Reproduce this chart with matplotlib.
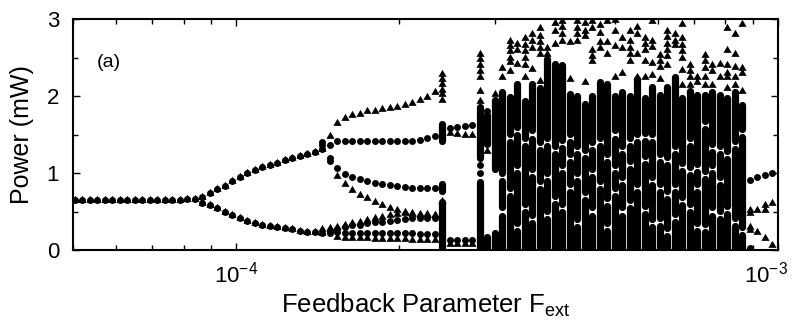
import numpy as np
import matplotlib
matplotlib.use('Agg')
import matplotlib.pyplot as plt
import matplotlib.transforms
from matplotlib.collections import LineCollection
from matplotlib.path import Path
from matplotlib.ticker import FixedLocator, LogLocator, MultipleLocator, NullFormatter

plt.rcParams['font.family'] = ['Liberation Sans', 'DejaVu Sans']
plt.rcParams['mathtext.fontset'] = 'custom'
plt.rcParams['mathtext.rm'] = 'Liberation Sans'
plt.rcParams['axes.unicode_minus'] = False

# feedback parameter sweep (units of 1e-5), one entry per step k
F_grid = np.array([
    5.035, 5.198, 5.367, 5.540, 5.720, 5.905, 6.096, 6.293, 6.497, 6.707,
    6.925, 7.149, 7.380, 7.619, 7.866, 8.121, 8.384, 8.655, 8.936, 9.225,
    9.524, 9.832, 10.150, 10.478, 10.818, 11.168, 11.529, 11.903, 12.288, 12.686,
    13.097, 13.521, 13.959, 14.411, 14.877, 15.359, 15.856, 16.370, 16.900, 17.447,
    18.012, 18.595, 19.197, 19.818, 20.460, 21.123, 21.807, 22.513, 23.242, 23.994,
    24.771, 25.573, 26.401, 27.256, 28.138, 29.049, 29.990, 30.961, 31.963, 32.998,
    34.067, 35.170, 36.308, 37.484, 38.698, 39.951, 41.244, 42.580, 43.958, 45.381,
    46.851, 48.368, 49.934, 51.550, 53.219, 54.942, 56.721, 58.558, 60.454, 62.411,
    64.432, 66.518, 68.672, 70.895, 73.191, 75.560, 78.007, 80.533, 83.140, 85.832,
    88.611, 91.480, 94.442, 97.500]) * 1e-5

# steady state (k = 0..16)
p_fixed = [0.65, 0.65, 0.65, 0.65, 0.65, 0.65, 0.65, 0.65, 0.65, 0.65,
           0.65, 0.65, 0.65, 0.65, 0.65, 0.66, 0.66]

# period two (k = 17..33)
p2_up = [0.69, 0.74, 0.79, 0.83, 0.90, 0.95, 1.00, 1.04, 1.08, 1.10,
         1.13, 1.17, 1.19, 1.22, 1.25, 1.27, 1.31]
p2_low = [0.61, 0.58, 0.55, 0.49, 0.45, 0.41, 0.38, 0.35, 0.33, 0.31,
          0.30, 0.28, 0.27, 0.25, 0.24, 0.23, 0.22]

# higher period branches (k = 35..48)
tri_a = [1.65, 1.71, 1.75, 1.77, 1.80, 1.81, 1.83, 1.84, 1.86, 1.88, 1.91, 1.95, 1.99, 2.05]
circ_a = [1.41, 1.41, 1.41, 1.41, 1.41, 1.41, 1.41, 1.41, 1.41, 1.42, 1.42, 1.43, 1.45, 1.48]
circ_b = [1.07, 0.99, 0.95, 0.92, 0.90, 0.87, 0.86, 0.84, 0.83, 0.82, 0.81, 0.80, 0.80, 0.80]
tri_b = [0.96, 0.86, 0.78, 0.72, 0.67, 0.62, 0.58, 0.55, 0.52, 0.50, 0.48, 0.47, 0.47, 0.46]
tri_c = [0.30, 0.33, 0.35, 0.37, 0.39, 0.41, 0.43, 0.45, 0.47, 0.48, 0.47, 0.46, 0.46, 0.46]
circ_c = [0.27, 0.30, 0.32, 0.33, 0.35, 0.36, 0.37, 0.38, 0.39, 0.40, 0.41, 0.41, 0.42, 0.42]
circ_d = [0.23, 0.22, 0.22, 0.22, 0.22, 0.22, 0.22, 0.22, 0.22, 0.22, 0.22, 0.21, 0.21, 0.21]
tri_d = [0.17, 0.16, 0.15, 0.15, 0.15, 0.14, 0.14, 0.14, 0.14, 0.14, 0.13, 0.13, 0.13, 0.13]

# short window (k = 50..53)
circ_e = [1.58, 1.60, 1.61, 1.62]
tri_e = [1.52, 1.51, 1.50, 1.49]
circ_f = [0.13, 0.13, 0.13, 0.13]
tri_f = [0.08, 0.08, 0.08, 0.08]

# back to periodic at the right end (k = 90..93)
circ_r = [0.91, 0.95, 0.97, 1.00]
tri_r1 = [0.52, 0.52, 0.58, 0.61]
tri_r2 = [0.30, 0.24, 0.15, 0.06]

# loose points (k, P)
circ_extra = [(33, 1.36), (33, 1.40), (34, 1.36), (34, 1.20), (34, 1.15), (34, 0.22),
              (34, 0.25), (54, 1.00), (54, 1.10), (55, 1.80), (90, 0.02)]
tri_extra = [(33, 0.27), (34, 1.48), (34, 0.28), (49, 2.28), (49, 2.22), (49, 2.15),
             (49, 2.08), (49, 2.02), (49, 1.95), (49, 0.64), (54, 2.55), (54, 2.48),
             (54, 2.40), (54, 2.32), (54, 2.25), (54, 2.07), (54, 1.94), (55, 1.28),
             (56, 2.02), (90, 0.48), (90, 0.26), (92, 0.52)]

# solid runs in the short chaotic bursts (k, low, high)
runs = [(49, 1.42, 1.64), (49, 0.76, 0.86), (49, 0.0, 0.62),
        (54, 1.20, 1.86), (54, 0.0, 0.88),
        (55, 1.38, 1.75), (55, 0.0, 0.17),
        (56, 1.05, 1.95), (56, 0.0, 0.22)]

# chaotic region k = 57..89: top of the dense part, white gaps, triangles above
chaos_top = [2.05, 1.99, 2.15, 1.93, 2.15, 2.10, 2.48, 2.42, 2.40, 2.03, 2.00,
             1.90, 2.00, 2.18, 2.15, 2.00, 2.05, 2.00, 2.22, 1.97, 2.12, 2.01,
             2.12, 2.25, 1.97, 2.07, 2.01, 2.01, 2.05, 2.01, 1.97, 2.05, 1.88]
chaos_gaps = [[0.50, 0.95], [0.75, 1.45], [0.30, 1.05, 1.55], [0.55, 1.40],
              [0.40, 1.00, 1.50], [0.85, 1.35], [0.45, 0.95, 1.40], [0.65, 1.30],
              [0.55, 1.05, 1.38], [0.80, 1.20, 1.45], [0.35, 0.95, 1.30], [0.70, 1.25],
              [0.50, 1.00, 1.35], [0.85, 1.40], [0.30, 0.62, 1.20], [0.75, 1.05, 1.50],
              [0.50, 0.90, 1.30], [0.60, 1.10, 1.40], [0.80, 1.45], [0.52, 1.17, 1.47],
              [0.35, 0.89, 1.45], [0.37, 0.80, 1.19], [0.24, 0.71, 1.15], [0.42, 0.80, 1.30],
              [0.63, 1.08], [0.55, 1.02, 1.40], [0.30, 0.80, 1.06], [0.28, 0.97, 1.62],
              [0.50, 1.05, 1.32], [0.45, 0.89, 1.30], [0.52, 1.23], [0.37, 1.36],
              [0.25, 1.52]]
chaos_tri = [[2.25, 2.36], [2.32, 2.44, 2.50, 2.58, 2.65, 2.72], [2.42, 2.60, 2.68],
             [2.25, 2.40, 2.50, 2.58, 2.66, 2.75], [2.35, 2.62, 2.72, 2.80],
             [2.20, 2.55, 2.62, 2.70, 2.78, 2.88], [2.55, 2.62], [2.68, 2.85, 2.95],
             [2.72, 2.80, 2.90, 2.98], [2.22, 2.70], [2.72, 2.80, 2.88, 2.98],
             [2.18, 2.78, 2.85, 2.95], [2.45, 2.52, 2.60, 2.88, 2.98], [2.62, 2.70, 2.82, 2.92],
             [2.05, 2.55, 2.70, 2.97], [2.25, 2.65, 2.85, 2.99], [2.30, 2.62, 2.75],
             [2.45, 2.55, 2.62, 2.72, 2.85], [2.25, 2.55, 2.80, 2.90],
             [2.25, 2.45, 2.60, 2.68, 2.75], [2.27, 2.43, 2.64, 2.72, 2.97],
             [2.22, 2.38, 2.45, 2.53], [2.40, 2.52, 2.60, 2.68, 2.76, 2.84], [2.66, 2.72, 2.80],
             [2.14, 2.34, 2.49, 2.58, 2.66, 2.75, 2.94], [2.14, 2.25, 2.32, 2.40], [2.18, 2.25],
             [2.14, 2.25, 2.36, 2.45, 2.53], [2.14, 2.32, 2.40], [2.25, 2.42],
             [2.10, 2.25, 2.30, 2.40, 2.60, 2.88], [2.14, 2.25, 2.38, 2.55, 2.80],
             [2.06, 2.30, 2.36, 2.94]]

tri_path = Path([(0, 1), (-0.866, -0.5), (0.866, -0.5), (0, 1)],
                [Path.MOVETO, Path.LINETO, Path.LINETO, Path.CLOSEPOLY])
ms_c = 5.0
ms_t = 6.8

fig = plt.figure(figsize=(7.93, 3.24), dpi=100)
ax = fig.add_axes([73 / 793, 1 - 250 / 324, 705 / 793, 231 / 324])
ax.set_xscale('log')


def branch(k0, vals, marker, ms):
    ax.plot(F_grid[k0:k0 + len(vals)], vals, ls='none', marker=marker, ms=ms,
            color='k', mew=0)


for vals, k0 in [(p_fixed, 0), (p2_up, 17), (p2_low, 17)]:
    branch(k0, vals, 'o', ms_c)
    branch(k0, vals, tri_path, ms_t)
for vals in [circ_a, circ_b, circ_c, circ_d]:
    branch(35, vals, 'o', ms_c)
for vals in [tri_a, tri_b, tri_c, tri_d]:
    branch(35, vals, tri_path, ms_t)
branch(50, circ_e, 'o', ms_c)
branch(50, circ_f, 'o', ms_c)
branch(50, tri_e, tri_path, ms_t)
branch(50, tri_f, tri_path, ms_t)
branch(90, circ_r, 'o', ms_c)
branch(90, tri_r1, tri_path, ms_t)
branch(90, tri_r2, tri_path, ms_t)

ax.plot([F_grid[k] for k, p in circ_extra], [p for k, p in circ_extra], ls='none',
        marker='o', ms=ms_c, color='k', mew=0)
ax.plot([F_grid[k] for k, p in tri_extra], [p for k, p in tri_extra], ls='none',
        marker=tri_path, ms=ms_t, color='k', mew=0)

# dense columns
segs = [[(F_grid[k], lo), (F_grid[k], hi)] for k, lo, hi in runs]
gap = 0.052
for i, (top, gaps) in enumerate(zip(chaos_top, chaos_gaps)):
    f = F_grid[57 + i]
    lo = 0.0
    for g in sorted(gaps):
        segs.append([(f, lo), (f, g - gap)])
        lo = g + gap
    segs.append([(f, lo), (f, top)])
    ax.plot([f] * len(chaos_tri[i]), chaos_tri[i], ls='none', marker=tri_path,
            ms=ms_t, color='k', mew=0)
ax.add_collection(LineCollection(segs, colors='k', linewidths=5.2, capstyle='round'))

ax.set_xlim(5e-5, 1e-3)
ax.set_ylim(0, 3)

ax.xaxis.set_major_locator(FixedLocator([1e-4, 1e-3]))
ax.xaxis.set_minor_locator(LogLocator(base=10, subs=np.arange(2, 10)))
ax.xaxis.set_minor_formatter(NullFormatter())
ax.set_xticklabels([r'$\mathregular{10^{-4}}$', r'$\mathregular{10^{-3}}$'])
ax.yaxis.set_major_locator(MultipleLocator(1))
ax.yaxis.set_minor_locator(MultipleLocator(0.5))
ax.tick_params(which='both', direction='in', top=True, right=True, width=1.0)
ax.tick_params(which='major', length=5, labelsize=16)
ax.tick_params(which='minor', length=3.5)
ax.tick_params(axis='y', pad=10)
ax.tick_params(axis='x', pad=8)
for s in ax.spines.values():
    s.set_linewidth(1.5)

labeloffset = matplotlib.transforms.ScaledTranslation(-0.12, 0, fig.dpi_scale_trans)
lab = ax.get_xticklabels()[1]
lab.set_transform(lab.get_transform() + labeloffset)

ax.set_ylabel('Power (mW)', fontsize=18, labelpad=9)
ax.set_xlabel(r'Feedback Parameter F$_\mathregular{ext}$', fontsize=18.5, labelpad=3)
ax.text(0.034, 0.81, '(a)', transform=ax.transAxes, fontsize=14, va='center')

fig.savefig('out.png', dpi=100)
